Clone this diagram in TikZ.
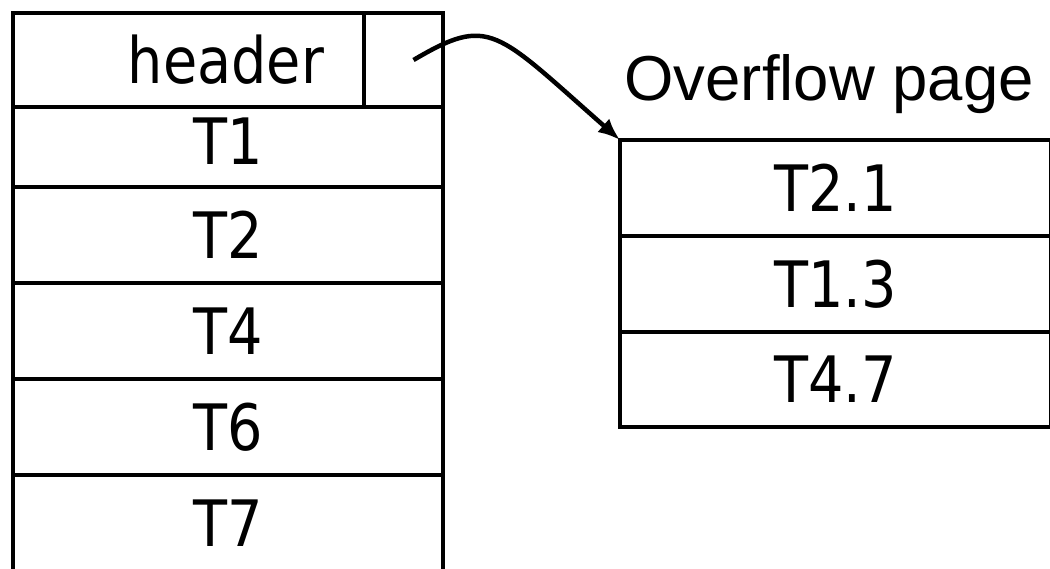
\documentclass[tikz,border=0pt]{standalone}
\usepackage{fontspec}
\usetikzlibrary{positioning,arrows.meta}
\newfontfamily\cellfont{DejaVu Sans}[FakeStretch=0.87]
\newfontfamily\titlefont{Liberation Sans}

\begin{document}
\begin{tikzpicture}[x=1pt,y=-1pt,
        cell/.style={draw,line width=4.5pt,inner sep=0pt,outer sep=0pt,
            minimum width=430pt,minimum height=96pt,
            font=\cellfont\fontsize{64}{70}\selectfont}]
        \useasboundingbox (0, 0) rectangle (1050, 568);

        % Page
        \node[cell,minimum width=351pt,minimum height=94pt,anchor=north west] (header) at (13, 13) {};
        \node[font=\cellfont\fontsize{64}{70}\selectfont] (headertext) at (226, 60) {header};
        \node[cell,minimum width=79pt,minimum height=94pt,right=0pt of header] (ptr) {};
        \node[cell,minimum height=80pt,anchor=north west] (t1) at (header.south west) {};
        \node[font=\cellfont\fontsize{64}{70}\selectfont] at (228, 141) {T1};
        \node[cell,below=0pt of t1] (t2) {T2};
        \node[cell,below=0pt of t2] (t4) {T4};
        \node[cell,below=0pt of t4] (t6) {T6};
        \node[cell,below=0pt of t6] (t7) {T7};

        % Overflow page
        \node[font=\titlefont\fontsize{63.5}{70}\selectfont,anchor=base west] (title) at (621, 100) {Overflow page};
        \node[cell,minimum width=431pt,anchor=north west] (ovf1) at (620, 140) {T2.1};
        \node[cell,minimum width=431pt,below=0pt of ovf1] (ovf2) {T1.3};
        \node[cell,minimum width=431pt,minimum height=95pt,below=0pt of ovf2] (ovf3) {T4.7};

        \draw[line width=4.5pt,-{Latex[length=22pt,width=18pt]}] ([xshift=10pt]ptr.center)
            .. controls (490, 15) and (495, 30) .. (ovf1.north west);
    \end{tikzpicture}
\end{document}
